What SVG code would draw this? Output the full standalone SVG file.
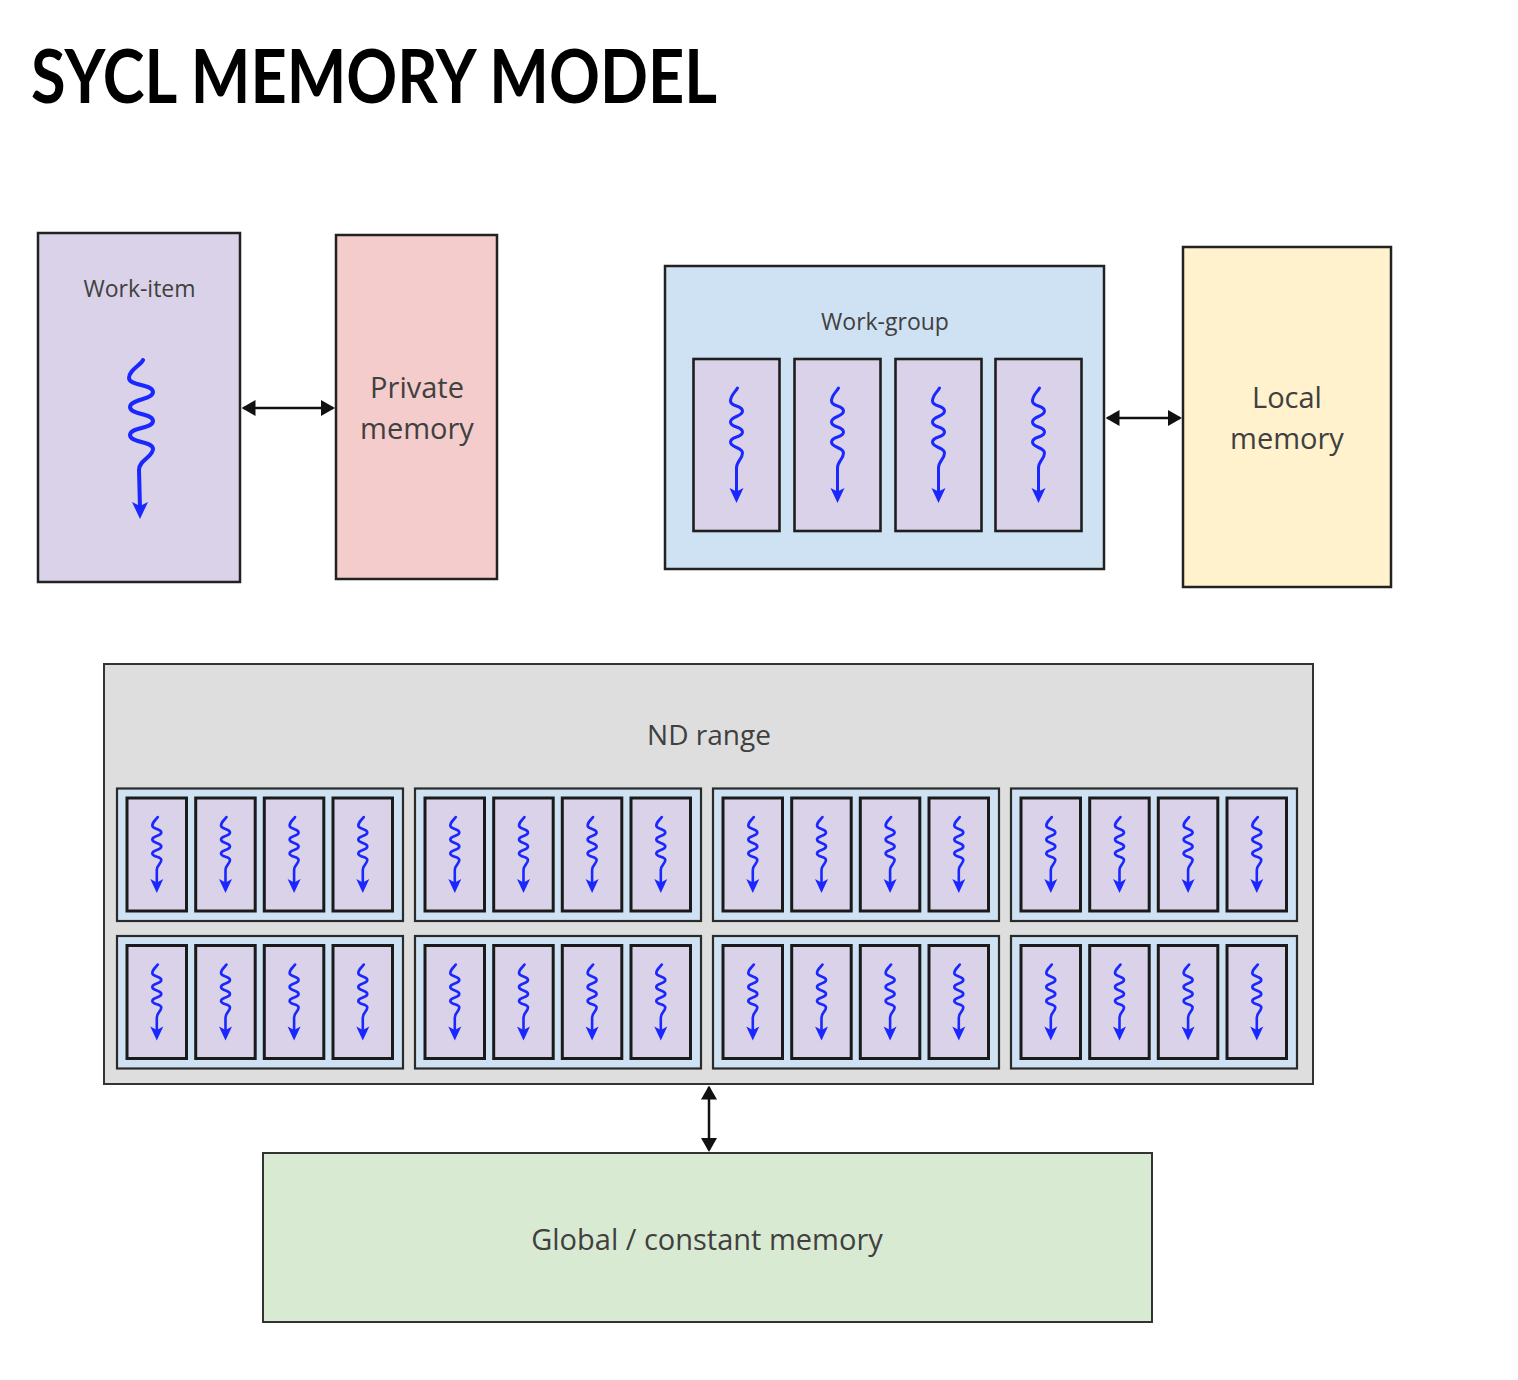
<svg xmlns="http://www.w3.org/2000/svg" xmlns:xlink="http://www.w3.org/1999/xlink" width="1518" height="1380" viewBox="0 0 1518 1380">
<style>
  .lbl { font-family: "Open Sans", "Liberation Sans", sans-serif; fill: #404040; text-anchor: middle; }
  .title { font-family: "Lato", "Liberation Sans", sans-serif; font-weight: 700; fill: #000; }
  .box { stroke: #222; stroke-width: 2.5; }
  .wi { fill: #d9d2e9; }
  .pm { fill: #f4cccc; }
  .wg { fill: #cfe2f3; }
  .lm { fill: #fff2cc; }
  .nd { fill: #dedede; stroke: #333; stroke-width: 2; }
  .gm { fill: #d9ead3; stroke: #333; stroke-width: 2; }
  .item-m { fill: #d9d2e9; stroke: #1e1e1e; stroke-width: 2.6; }
  .item-s { fill: #d9d2e9; stroke: #1a1a1a; stroke-width: 3; }
  .wg-s { fill: #cfe2f3; stroke: #2a2a2a; stroke-width: 2.2; }
  .wig { fill: none; stroke: #1a28ff; stroke-linecap: round; stroke-linejoin: round; }
  .wigh { fill: #1a28ff; stroke: none; }
  .conn { stroke: #111; stroke-width: 2.5; fill: none; }
</style>
<defs>
  <marker id="ah" viewBox="0 0 14 16" refX="12" refY="8" markerWidth="14" markerHeight="16" markerUnits="userSpaceOnUse" orient="auto-start-reverse">
    <path d="M0,0 L14,8 L0,16 Z" fill="#111"/>
  </marker>
  <g id="wig-l">
    <path class="wig" stroke-width="4" d="M4,0 C1,6 -10,10 -10,18 C-10,26 14,24 14,32 C14,40 -9,39 -9,47 C-9,55 14,53 14,61 C14,69 -9,67 -9,75 C-9,83 14,81 14,89 C14,97 0,100 0,110 L1,148"/>
    <path class="wigh" d="M1,159 L-7,142 L1,146 L9,142 Z"/>
  </g>
  <g id="wig-m">
    <path class="wig" stroke-width="3" d="M1,0 C-1,4 -6,7 -6,13 C-6,19 6,17 6,23 C6,29 -6,28 -6,34 C-6,40 6,38 6,44 C6,50 -6,48 -6,54 C-6,60 6,59 6,65 C6,71 0,73 0,80 L0,105"/>
    <path class="wigh" d="M0,115 L-7,100 L0,103.5 L7,100 Z"/>
  </g>
  <g id="wig-s">
    <path class="wig" stroke-width="2.6" d="M1,0 C-1,3 -4.5,5 -4.5,8.5 C-4.5,12.5 4.5,11.5 4.5,15.5 C4.5,19.5 -4.5,18.5 -4.5,22.5 C-4.5,26.5 4.5,25.5 4.5,29.5 C4.5,33.5 -4.5,32.5 -4.5,36.5 C-4.5,40.5 4.5,39 4.5,43 C4.5,47 0,48 0,53 L0,66"/>
    <path class="wigh" d="M0,76 L-6.5,62 L0,65.5 L6.5,62 Z"/>
  </g>
  <g id="item-m">
    <rect class="item-m" x="0" y="0" width="86" height="172"/>
    <use xlink:href="#wig-m" href="#wig-m" x="43" y="29"/>
  </g>
  <g id="item-s">
    <rect class="item-s" x="0" y="0" width="59.5" height="113"/>
    <use xlink:href="#wig-s" href="#wig-s" x="29.8" y="19"/>
  </g>
  <g id="wg-small">
    <rect class="wg-s" x="0" y="0" width="286" height="132.5"/>
    <use xlink:href="#item-s" href="#item-s" x="10" y="9.5"/>
    <use xlink:href="#item-s" href="#item-s" x="78.7" y="9.5"/>
    <use xlink:href="#item-s" href="#item-s" x="147.3" y="9.5"/>
    <use xlink:href="#item-s" href="#item-s" x="216" y="9.5"/>
  </g>
</defs>

<rect x="0" y="0" width="1518" height="1380" fill="#fff"/>

<text class="title" x="31" y="103" font-size="74" textLength="686" lengthAdjust="spacingAndGlyphs">SYCL MEMORY MODEL</text>

<g id="work-item">
  <rect class="box wi" x="38" y="233" width="202" height="349"/>
  <text class="lbl" x="139.5" y="297" font-size="23">Work-item</text>
  <use xlink:href="#wig-l" href="#wig-l" x="139" y="360"/>
</g>

<g id="private-memory">
  <rect class="box pm" x="336" y="235" width="161" height="344"/>
  <text class="lbl" x="417" y="398" font-size="29">Private</text>
  <text class="lbl" x="417" y="439" font-size="29">memory</text>
</g>

<g id="work-group">
  <rect class="box wg" x="665" y="266" width="439" height="303"/>
  <text class="lbl" x="885" y="330" font-size="23">Work-group</text>
  <use xlink:href="#item-m" href="#item-m" x="693.5" y="359"/>
  <use xlink:href="#item-m" href="#item-m" x="794.5" y="359"/>
  <use xlink:href="#item-m" href="#item-m" x="895.5" y="359"/>
  <use xlink:href="#item-m" href="#item-m" x="995.5" y="359"/>
</g>

<g id="local-memory">
  <rect class="box lm" x="1183" y="247" width="208" height="340" stroke-width="2"/>
  <text class="lbl" x="1287" y="408" font-size="29">Local</text>
  <text class="lbl" x="1287" y="449" font-size="29">memory</text>
</g>

<g id="nd-range">
  <rect class="nd" x="104" y="664" width="1209" height="420"/>
  <text class="lbl" x="709" y="745" font-size="28">ND range</text>
  <g id="nd-wg-1"><use xlink:href="#wg-small" href="#wg-small" x="117" y="788.5"/></g>
  <g id="nd-wg-2"><use xlink:href="#wg-small" href="#wg-small" x="415" y="788.5"/></g>
  <g id="nd-wg-3"><use xlink:href="#wg-small" href="#wg-small" x="713" y="788.5"/></g>
  <g id="nd-wg-4"><use xlink:href="#wg-small" href="#wg-small" x="1011" y="788.5"/></g>
  <g id="nd-wg-5"><use xlink:href="#wg-small" href="#wg-small" x="117" y="936"/></g>
  <g id="nd-wg-6"><use xlink:href="#wg-small" href="#wg-small" x="415" y="936"/></g>
  <g id="nd-wg-7"><use xlink:href="#wg-small" href="#wg-small" x="713" y="936"/></g>
  <g id="nd-wg-8"><use xlink:href="#wg-small" href="#wg-small" x="1011" y="936"/></g>
</g>

<g id="global-memory">
  <rect class="gm" x="263" y="1153" width="889" height="169"/>
  <text class="lbl" x="707" y="1250" font-size="29">Global / constant memory</text>
</g>

<g id="connectors">
  <line class="conn" x1="243.5" y1="408" x2="333" y2="408" marker-start="url(#ah)" marker-end="url(#ah)"/>
  <line class="conn" x1="1107.5" y1="418" x2="1180" y2="418" marker-start="url(#ah)" marker-end="url(#ah)"/>
  <line class="conn" x1="709" y1="1087.5" x2="709" y2="1150" marker-start="url(#ah)" marker-end="url(#ah)"/>
</g>
</svg>
